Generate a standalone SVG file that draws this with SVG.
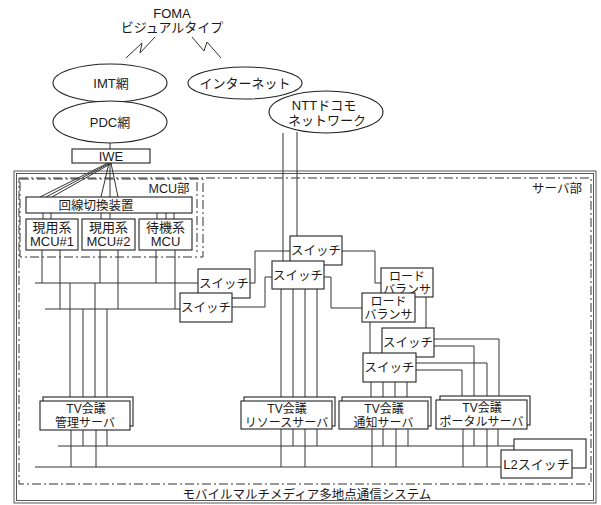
<svg xmlns="http://www.w3.org/2000/svg" width="601" height="505" viewBox="0 0 601 505">
<style>
text{font-family:"Liberation Sans","Noto Sans CJK JP",sans-serif;fill:#1a1a1a;text-anchor:middle}
.n{fill:#fff;stroke:#222;stroke-width:1.1}
.l{fill:none;stroke:#333;stroke-width:1}
.dd{fill:none;stroke:#333;stroke-width:1;stroke-dasharray:9 3 2 3}
.f13{font-size:13px}
.f12{font-size:12.5px}
.s{font-size:12px}
</style>
<rect width="601" height="505" fill="#fff"/>
<g id="system">
<rect x="14" y="171" width="582" height="332" fill="none" stroke="#444" stroke-width="0.9"/>
<rect x="16.5" y="173.5" width="577" height="327" fill="none" stroke="#444" stroke-width="0.9"/>
<text x="307" y="499" class="f12">モバイルマルチメディア多地点通信システム</text>
</g>
<g id="server-part">
<rect x="19" y="178" width="572" height="306" class="dd"/>
<text x="557" y="193" class="f12">サーバ部</text>
</g>
<g id="mcu-part">
<rect x="20" y="179" width="183" height="78" class="dd"/>
<line x1="197" y1="182" x2="197" y2="252" class="dd"/>
<text x="169" y="193" class="f12">MCU部</text>
</g>
<g id="connectors">
<polyline points="126,58 142,43 140,53 155,37" class="l"/>
<polyline points="192,37 204,51 207,42 221,58" class="l"/>
<line x1="110" y1="143" x2="110" y2="149" class="l"/>
<line x1="108" y1="163" x2="40" y2="197" class="l"/>
<line x1="110" y1="163" x2="46" y2="197" class="l"/>
<line x1="112" y1="163" x2="52" y2="197" class="l"/>
<line x1="109" y1="163" x2="101" y2="197" class="l"/>
<line x1="110" y1="163" x2="110" y2="197" class="l"/>
<line x1="111" y1="163" x2="118" y2="197" class="l"/>
<path d="M43 213V219M51 213V219M101 213V219M110 213V219M157 213V219M166 213V219M174 213V219" class="l"/>
<path d="M42 250V283M60 250V309M100 250V283M118 250V309M156 250V283M175 250V309" class="l"/>
<path d="M35 283H198M45 309H180" class="l"/>
<path d="M70 283V397M83 309V397M95 283V397M107 309V397" class="l"/>
<polyline points="250,283 255,283 255,251 290,251" class="l"/>
<polyline points="232,307 265,307 265,277 272,277" class="l"/>
<path d="M283 133V261M297 132V236" class="l"/>
<polyline points="342,251 375,251 375,283 381,283" class="l"/>
<polyline points="324,277 331,277 331,308 362,308" class="l"/>
<path d="M426 297V328M370 322V353" class="l"/>
<path d="M281 289V397M293 289V397M305 289V397M317 289V397" class="l"/>
<path d="M371 382V397M383 382V397M395 382V397M407 382V397" class="l"/>
<polyline points="434,339 499,339 499,396" class="l"/>
<polyline points="434,346 474,346 474,396" class="l"/>
<polyline points="416,363 487,363 487,396" class="l"/>
<polyline points="416,370 462,370 462,396" class="l"/>
<path d="M71 429V467M83 429V446M96 429V467M107 429V446" class="l"/>
<path d="M281 429V467M293 429V446M305 429V467M317 429V446" class="l"/>
<path d="M372 429V467M383 429V446M396 429V467M408 429V446" class="l"/>
<path d="M463 429V467M474 429V446M487 429V467M498 429V446" class="l"/>
<path d="M58 446H514M35 467H501" class="l"/>
</g>
<g id="foma">
<text x="172" y="18" class="f13">FOMA</text>
<text x="172" y="32" class="f13">ビジュアルタイプ</text>
</g>
<g id="imt"><ellipse cx="110" cy="83" rx="57" ry="19" class="n"/><text x="111" y="88" class="f13">IMT網</text></g>
<g id="pdc"><ellipse cx="110" cy="122" rx="57" ry="21" class="n"/><text x="110" y="127" class="f13">PDC網</text></g>
<g id="internet"><ellipse cx="245" cy="83" rx="57" ry="16" class="n"/><text x="245" y="88" class="f13">インターネット</text></g>
<g id="ntt"><ellipse cx="326" cy="112" rx="57" ry="21" class="n"/><text x="324" y="110" class="f13">NTTドコモ</text><text x="327" y="125" class="f13">ネットワーク</text></g>
<g id="iwe"><rect x="72" y="149" width="78" height="14" class="n"/><text x="111" y="161" class="f13">IWE</text></g>
<g id="kaisen"><rect x="26" y="197" width="166" height="16" class="n"/><text x="96" y="210" class="f12">回線切換装置</text></g>
<g id="mcu1"><rect x="26" y="219" width="52" height="31" class="n"/><text x="52" y="232" class="f13">現用系</text><text x="52" y="246" class="f13">MCU#1</text></g>
<g id="mcu2"><rect x="82" y="219" width="53" height="31" class="n"/><text x="108.5" y="232" class="f13">現用系</text><text x="108.5" y="246" class="f13">MCU#2</text></g>
<g id="mcu3"><rect x="139" y="219" width="53" height="31" class="n"/><text x="165.5" y="232" class="f13">待機系</text><text x="165.5" y="246" class="f13">MCU</text></g>
<g id="sw-left-1"><rect x="198" y="269" width="52" height="29" class="n"/><text x="224" y="288" class="f12">スイッチ</text></g>
<g id="sw-left-2"><rect x="180" y="293" width="52" height="29" class="n"/><text x="206" y="312" class="f12">スイッチ</text></g>
<g id="sw-mid-1"><rect x="290" y="236" width="52" height="29" class="n"/><text x="316" y="255" class="f12">スイッチ</text></g>
<g id="sw-mid-2"><rect x="272" y="261" width="52" height="28" class="n"/><text x="298" y="280" class="f12">スイッチ</text></g>
<g id="lb-1"><rect x="381" y="268" width="52" height="29" class="n"/><text x="407" y="281" class="s">ロード</text><text x="407" y="294" class="s">バランサ</text></g>
<g id="lb-2"><rect x="362" y="293" width="53" height="29" class="n"/><text x="388.5" y="306" class="s">ロード</text><text x="388.5" y="319" class="s">バランサ</text></g>
<g id="sw-right-1"><rect x="382" y="328" width="52" height="29" class="n"/><text x="408" y="347" class="f12">スイッチ</text></g>
<g id="sw-right-2"><rect x="363" y="353" width="53" height="29" class="n"/><text x="389.5" y="372" class="f12">スイッチ</text></g>
<g id="srv-kanri"><rect x="43" y="397" width="90" height="29" class="n"/><rect x="40" y="401" width="90" height="29" class="n"/><text x="86" y="413" class="s">TV会議</text><text x="85" y="427" class="s">管理サーバ</text></g>
<g id="srv-resource"><rect x="244" y="397" width="91" height="29" class="n"/><rect x="241" y="401" width="91" height="28" class="n"/><text x="287" y="413" class="s">TV会議</text><text x="286.5" y="427" class="s">リソースサーバ</text></g>
<g id="srv-tsuchi"><rect x="342" y="397" width="89" height="29" class="n"/><rect x="339" y="401" width="89" height="28" class="n"/><text x="384" y="413" class="s">TV会議</text><text x="383.5" y="427" class="s">通知サーバ</text></g>
<g id="srv-portal"><rect x="440" y="396" width="90" height="29" class="n"/><rect x="436" y="400" width="91" height="29" class="n"/><text x="482" y="412" class="s">TV会議</text><text x="481.5" y="426" class="s">ポータルサーバ</text></g>
<g id="l2sw"><rect x="514" y="439" width="72" height="29" class="n"/><rect x="501" y="450" width="71" height="28" class="n"/><text x="536.5" y="469" class="f13">L2スイッチ</text></g>
</svg>
